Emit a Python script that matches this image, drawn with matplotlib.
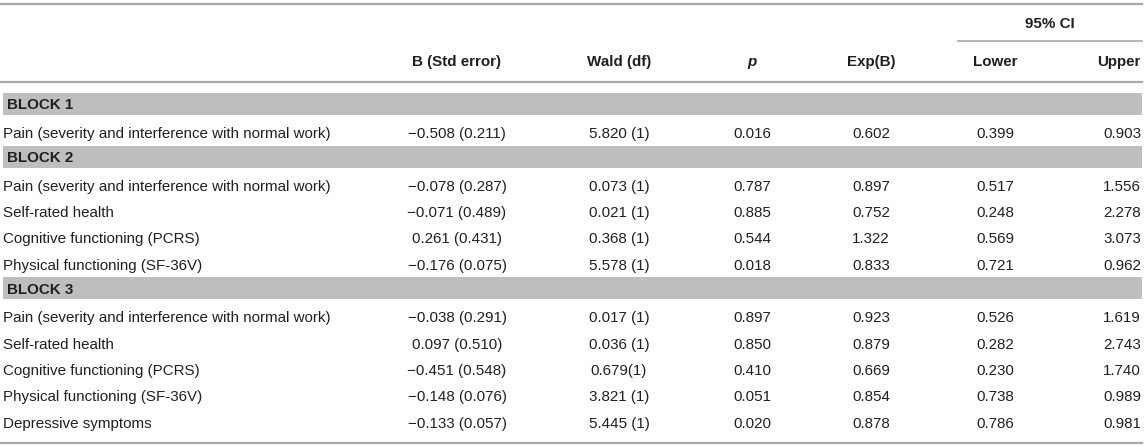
import matplotlib
matplotlib.use("Agg")
import matplotlib.pyplot as plt

plt.rcParams['font.family'] = ['Liberation Sans', 'DejaVu Sans']

# -------------------- Table data --------------------
col_headers = ["B (Std error)", "Wald (df)", "p", "Exp(B)", "Lower", "Upper"]
ci_header = "95% CI"

blocks = ["BLOCK 1", "BLOCK 2", "BLOCK 3"]

block1_labels = ["Pain (severity and interference with normal work)"]
block2_labels = ["Pain (severity and interference with normal work)",
                 "Self-rated health",
                 "Cognitive functioning (PCRS)",
                 "Physical functioning (SF-36V)"]
block3_labels = ["Pain (severity and interference with normal work)",
                 "Self-rated health",
                 "Cognitive functioning (PCRS)",
                 "Physical functioning (SF-36V)",
                 "Depressive symptoms"]

b_se = ["\u22120.508 (0.211)",
        "\u22120.078 (0.287)", "\u22120.071 (0.489)", "0.261 (0.431)", "\u22120.176 (0.075)",
        "\u22120.038 (0.291)", "0.097 (0.510)", "\u22120.451 (0.548)", "\u22120.148 (0.076)",
        "\u22120.133 (0.057)"]
wald = ["5.820 (1)",
        "0.073 (1)", "0.021 (1)", "0.368 (1)", "5.578 (1)",
        "0.017 (1)", "0.036 (1)", "0.679(1)", "3.821 (1)", "5.445 (1)"]
p_vals = ["0.016",
          "0.787", "0.885", "0.544", "0.018",
          "0.897", "0.850", "0.410", "0.051", "0.020"]
exp_b = ["0.602",
         "0.897", "0.752", "1.322", "0.833",
         "0.923", "0.879", "0.669", "0.854", "0.878"]
ci_lower = ["0.399",
            "0.517", "0.248", "0.569", "0.721",
            "0.526", "0.282", "0.230", "0.738", "0.786"]
ci_upper = ["0.903",
            "1.556", "2.278", "3.073", "0.962",
            "1.619", "2.743", "1.740", "0.989", "0.981"]

# -------------------- Layout (pixels) --------------------
W, H = 1145, 447
col_x = [457, 619, 752, 871, 995, 1141]
col_ha = ["center", "center", "center", "center", "center", "right"]
row_h = 26.3
first_row_y = 104
fs = 10.9
base = 5.4          # half cap height -> baseline offset
line_col = "#a7a9ac"
band_col = "#bcbec0"
txt_col = "#231f20"

fig = plt.figure(figsize=(W / 100, H / 100), dpi=100)
ax = fig.add_axes([0, 0, 1, 1])
ax.set_xlim(0, W)
ax.set_ylim(H, 0)
ax.axis("off")

# header
ax.plot([0, 1142], [4, 4], color=line_col, lw=1.6)
ax.plot([0, 1142], [82, 82], color=line_col, lw=1.6)
ax.plot([958, 1142], [41, 41], color=line_col, lw=1.2)
ax.text(1050, 23 + base, ci_header, ha="center", va="baseline", fontsize=fs,
        fontweight="bold", color=txt_col)
for i, h in enumerate(col_headers):
    ax.text(col_x[i], 61 + base, h, ha=col_ha[i], va="baseline", fontsize=fs,
            fontweight="bold", color=txt_col, style="italic" if h == "p" else "normal")

# body
columns = [b_se, wald, p_vals, exp_b, ci_lower, ci_upper]
y = first_row_y
k = 0
for name, labels in zip(blocks, [block1_labels, block2_labels, block3_labels]):
    ax.add_patch(plt.Rectangle((3, y - 11), 1139, 22, color=band_col, lw=0))
    ax.text(7, y + base, name, ha="left", va="baseline", fontsize=fs,
            fontweight="bold", color=txt_col)
    y += row_h
    for lab in labels:
        ty = y + 2.5 + base
        ax.text(3, ty, lab, ha="left", va="baseline", fontsize=fs, color=txt_col)
        for i, col in enumerate(columns):
            ax.text(col_x[i], ty, col[k], ha=col_ha[i], va="baseline",
                    fontsize=fs, color=txt_col)
        k += 1
        y += row_h

ax.plot([0, 1142], [443, 443], color=line_col, lw=1.6)

fig.savefig("out.png", dpi=100)
